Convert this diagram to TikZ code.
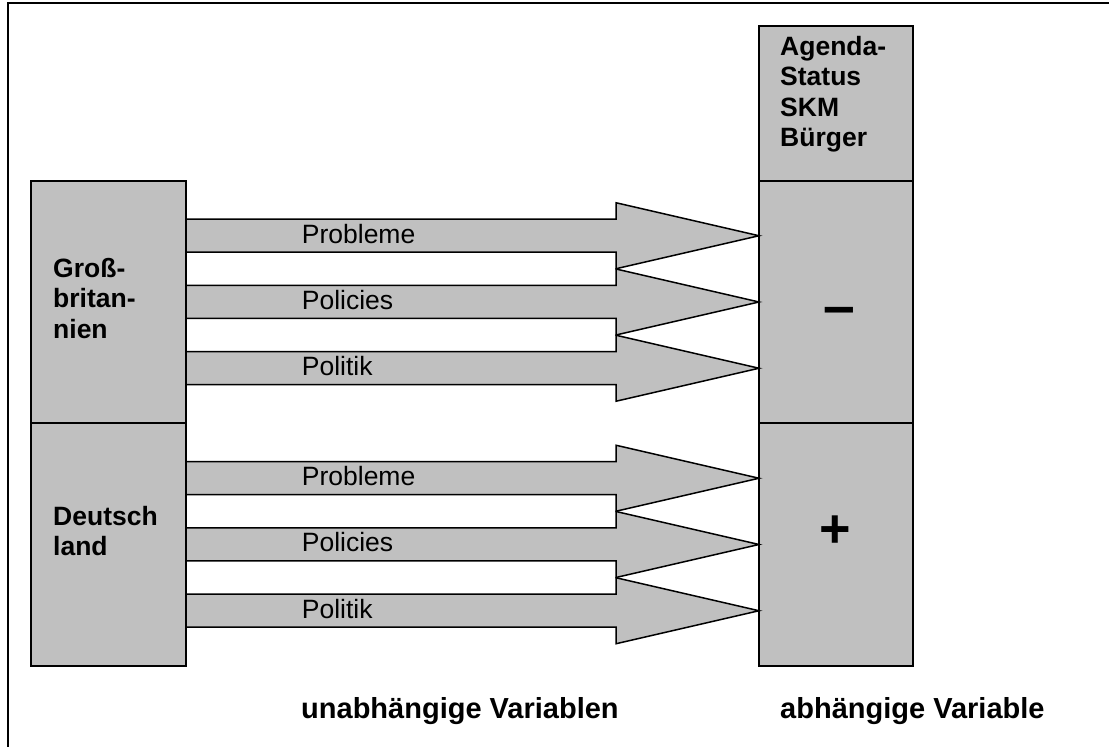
\documentclass[tikz,border=0pt]{standalone}
\usepackage{fontspec}
\setmainfont{Liberation Sans}
\usetikzlibrary{positioning,calc}
\definecolor{boxgray}{RGB}{192,192,192}

\begin{document}
\begin{tikzpicture}[x=1pt,y=1pt,
  box/.style={draw,fill=boxgray,line width=1.5pt,inner sep=0pt,outer sep=0pt,minimum width=155pt},
  boldtxt/.style={font=\fontsize{26.5}{30.5}\selectfont\bfseries,align=left,inner sep=0pt,anchor=north west},
  armtxt/.style={font=\fontsize{26.5}{30.5}\selectfont,inner sep=0pt,anchor=base west},
  foottxt/.style={font=\fontsize{29}{34}\selectfont\bfseries,inner sep=0pt,anchor=base west},
  blockarrow/.style={draw,fill=boxgray,line width=1.5pt,line join=miter}]
 \useasboundingbox (0,0) rectangle (1109,747);
 \clip (0,0) rectangle (1109,747);
 \draw[line width=1.5pt] (8,-5) rectangle (1120,744);
 \node[box,minimum height=242pt] (gb) at (108.5,445) {};
 \node[box,minimum height=243pt,below=0pt of gb] (de) {};
 \node[box,minimum width=154pt,minimum height=242pt] (neg) at (836,445) {};
 \node[box,minimum width=154pt,minimum height=155pt,above=0pt of neg] (ags) {};
 \node[box,minimum width=154pt,minimum height=243pt,below=0pt of neg] (pos) {};
 \foreach \src/\dst in {gb/neg,de/pos}
  \foreach \lbl [count=\i] in {Probleme,Policies,Politik} {
   \pgfmathsetmacro\dy{(2-\i)*66.25}
   \coordinate (\src-s\i) at ($(\src.east)+(0,\dy)$);
   \coordinate (\src-t\i) at ($(\dst.west)+(0,\dy)$);
   \filldraw[blockarrow] ($(\src-s\i)+(0,16.5)$) -- ($(\src-t\i)+(-143,16.5)$) -- ($(\src-t\i)+(-143,33)$)
     -- (\src-t\i) -- ($(\src-t\i)+(-143,-33)$) -- ($(\src-t\i)+(-143,-16.5)$) -- ($(\src-s\i)+(0,-16.5)$) -- cycle;
   \node[armtxt] (\src-l\i) at ($(\src-s\i)+(115.7,-7.5)$) {\lbl};
  }
 \node[boldtxt] (gbtxt) at ([xshift=22pt,yshift=-77pt]gb.north west) {Groß-\\britan-\\nien};
 \node[boldtxt] (detxt) at ([xshift=22pt,yshift=-83pt]de.north west) {Deutsch\\land};
 \node[boldtxt] (agtxt) at ([xshift=21pt,yshift=-10pt]ags.north west) {Agenda-\\Status\\SKM\\Bürger};
 \node[font=\fontsize{57}{57}\selectfont\bfseries,inner sep=0pt] (minus) at ([xshift=3.5pt,yshift=-14pt]neg.center) {–};
 \node[font=\fontsize{54}{54}\selectfont\bfseries,inner sep=0pt] (plus) at ([xshift=-1pt,yshift=13pt]pos.center) {+};
 \node[foottxt] (uv) at (301,28) {unabhängige Variablen};
 \node[foottxt] (av) at (780,28) {abhängige Variable};
\end{tikzpicture}
\end{document}
